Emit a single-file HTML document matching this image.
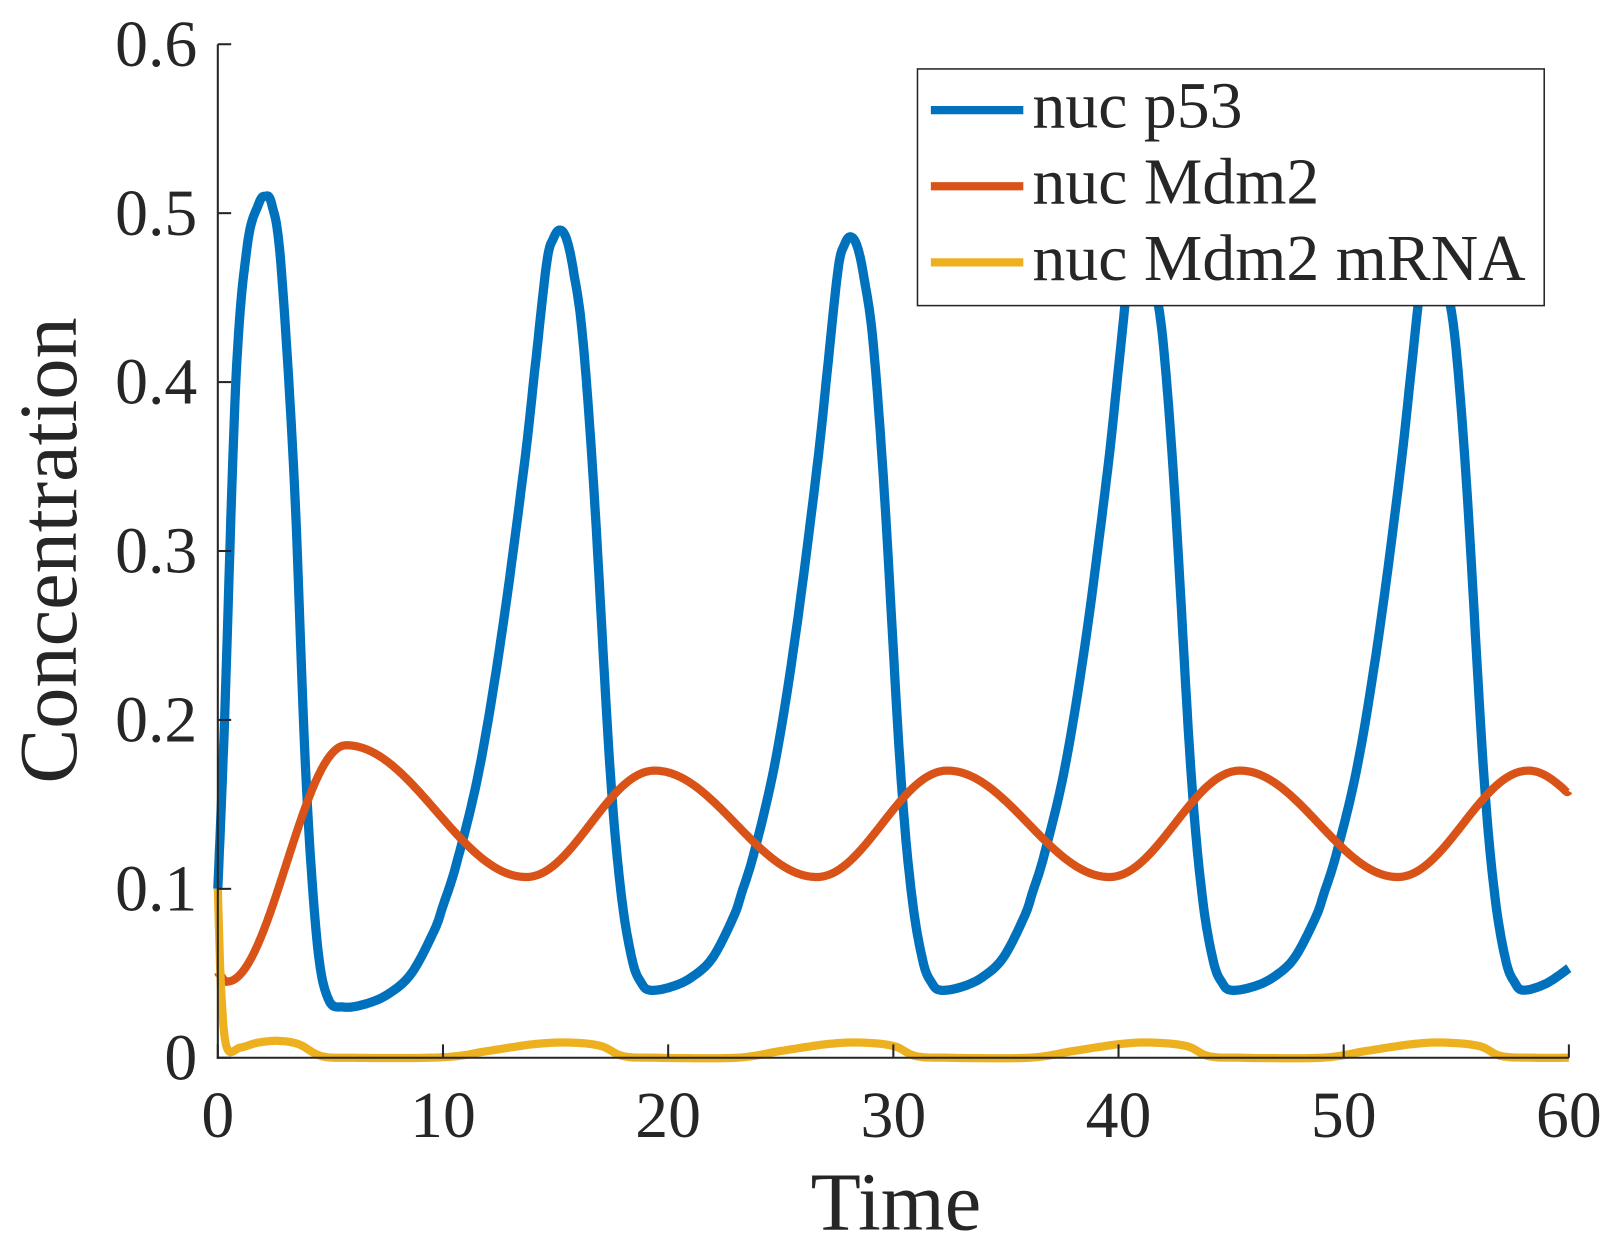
<!DOCTYPE html>
<html><head><meta charset="utf-8">
<style>
html,body{margin:0;padding:0;background:#fff;}
svg{display:block;}
text{font-family:"Liberation Serif",serif;fill:#262626;}
</style></head>
<body>
<svg id="s" width="1611" height="1244" viewBox="0 0 1568 1209" preserveAspectRatio="none" xmlns="http://www.w3.org/2000/svg">
<rect width="1568" height="1209" fill="#fff"/>
<g id="curves" fill="none" stroke-linejoin="round" stroke-linecap="butt"></g>
<g stroke="#262626" stroke-width="2" fill="none">
<line x1="212" y1="43" x2="212" y2="1029"/>
<line x1="211" y1="1028" x2="1527" y2="1028"/>
<g id="ticks"></g>
</g>
<g id="labels" font-size="64"></g>
<text x="872" y="1195" font-size="80" text-anchor="middle">Time</text>
<text transform="translate(74,535) rotate(-90)" font-size="80" text-anchor="middle">Concentration</text>
<rect x="893" y="67" width="610" height="230" fill="#fff" stroke="#262626" stroke-width="1.5"/>
<line x1="906" y1="107" x2="996" y2="107" stroke="#0072BD" stroke-width="8"/>
<line x1="906" y1="181" x2="996" y2="181" stroke="#D95319" stroke-width="8"/>
<line x1="906" y1="255" x2="996" y2="255" stroke="#EDB120" stroke-width="8"/>
<text x="1005" y="124" font-size="64">nuc p53</text>
<text x="1005" y="198" font-size="64">nuc Mdm2</text>
<text x="1005" y="272" font-size="64">nuc Mdm2 mRNA</text>
</svg>
<script>
var X=function(t){return 212+t*(1527-212)/60;};
var Y=function(v){return 1028-v*(1028-43)/0.6;};
function cr(pts){
  var out=[];
  for(var i=0;i<pts.length-1;i++){
    var p0=pts[Math.max(0,i-1)],p1=pts[i],p2=pts[i+1],p3=pts[Math.min(pts.length-1,i+2)];
    for(var k=0;k<12;k++){var u=k/12,u2=u*u,u3=u2*u;
      var f=function(a,b,c,d){return 0.5*((2*b)+(-a+c)*u+(2*a-5*b+4*c-d)*u2+(-a+3*b-3*c+d)*u3);};
      out.push([f(p0[0],p1[0],p2[0],p3[0]),f(p0[1],p1[1],p2[1],p3[1])]);}
  }
  out.push(pts[pts.length-1]);return out;
}
function path(pts,col,w){
  var s=cr(pts),d='';
  s.forEach(function(p,i){d+=(i?'L':'M')+X(p[0]).toFixed(1)+','+Y(p[1]).toFixed(1);});
  var e=document.createElementNS('http://www.w3.org/2000/svg','path');
  e.setAttribute('d',d);e.setAttribute('stroke',col);e.setAttribute('stroke-width',w);
  document.getElementById('curves').appendChild(e);
}
var p=[[0,0.10],[0.3,0.2],[0.8,0.40],[1.3,0.48],[1.8,0.505],[2.1,0.51],[2.4,0.505],[2.8,0.47],[3.4,0.34],[3.9,0.17],[4.4,0.07],[4.9,0.035],[5.6,0.03]];
var peaks=[[15.2,0.49],[28.1,0.486],[41.0,0.483],[54.0,0.48]];
var prevMin=[5.6,0.03];
var ro=[[1,0.032],[2,0.038],[3,0.05],[4,0.075],[4.4,0.09],[5,0.115],[6,0.17],[7,0.25],[8,0.35],[8.5,0.41],[9.0,0.47],[9.3,0.485]];
peaks.forEach(function(pk){
  var tm=prevMin[0],m=prevMin[1],P=pk[0],A=pk[1],sc=(P-tm)/9.6;
  ro.forEach(function(r){p.push([tm+r[0]*sc,m+(r[1]-0.03)/(0.49-0.03)*(A-m)]);});
  p.push([P,A]);
  var mn=0.04;
  [[0.3,0.987],[0.6,0.945],[1.0,0.86],[1.5,0.66],[2.2,0.3],[2.7,0.13],[3.2,0.04],[3.6,0.01]].forEach(function(f){p.push([P+f[0],mn+f[1]*(A-mn)]);});
  p.push([P+4.0,mn]);prevMin=[P+4.0,mn];
});
p.push([59,0.044]);p.push([60,0.053]);
var ext=[[0,0.05],[0.4,0.045],[5.7,0.185],[13.7,0.107],[19.4,0.17],[26.6,0.107],[32.4,0.17],[39.6,0.107],[45.4,0.17],[52.4,0.107],[58.2,0.17],[62,0.14]];
var m=[];
for(var i=0;i<ext.length-1;i++){var a=ext[i],b=ext[i+1];
  for(var k=0;k<20;k++){var u=k/20,t=a[0]+(b[0]-a[0])*u;if(t>60)break;
    m.push([t,a[1]+(b[1]-a[1])*(1-Math.cos(Math.PI*u))/2]);}}
m.push([60,0.158]);
var y=[[0,0.10],[0.15,0.04],[0.4,0.006],[1,0.006],[1.8,0.009],[2.7,0.01],[3.6,0.008],[4.6,0.001],[6,0],[10,0.0003],[12,0.004],[14,0.008],[15.6,0.009],[17,0.007],[18,0.001],[19.5,0],[23,0],[25,0.004],[27,0.008],[28.5,0.009],[30,0.007],[31,0.001],[32.5,0],[36,0],[38,0.004],[40,0.008],[41.4,0.009],[43,0.007],[44,0.001],[45.5,0],[49,0],[51,0.004],[53,0.008],[54.4,0.009],[56,0.007],[57,0.001],[58.5,0],[60,0]];
path(p,'#0072BD',9);
path(m,'#D95319',8);
path(y,'#EDB120',8);
var tg=document.getElementById('ticks'),lg=document.getElementById('labels'),ns='http://www.w3.org/2000/svg';
for(var i=0;i<=6;i++){
  var yy=Y(i/10),l=document.createElementNS(ns,'line');
  l.setAttribute('x1',212);l.setAttribute('x2',225);l.setAttribute('y1',yy);l.setAttribute('y2',yy);tg.appendChild(l);
  var t=document.createElementNS(ns,'text');t.setAttribute('x',192);t.setAttribute('y',yy+21);t.setAttribute('text-anchor','end');
  t.textContent=i==0?'0':'0.'+i;lg.appendChild(t);
  var xx=X(i*10);l=document.createElementNS(ns,'line');
  l.setAttribute('x1',xx);l.setAttribute('x2',xx);l.setAttribute('y1',1028);l.setAttribute('y2',1015);tg.appendChild(l);
  t=document.createElementNS(ns,'text');t.setAttribute('x',xx);t.setAttribute('y',1105);t.setAttribute('text-anchor','middle');
  t.textContent=String(i*10);lg.appendChild(t);
}
</script>
</body></html>
